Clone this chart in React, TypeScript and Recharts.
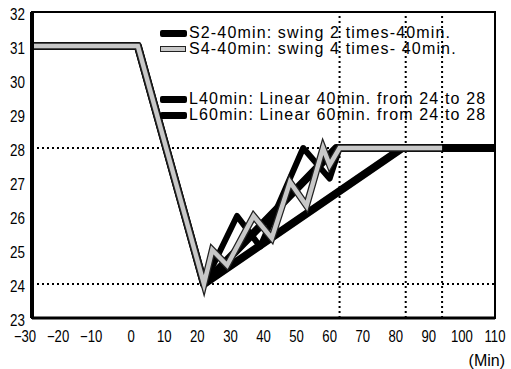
import React from 'react';
import { LineChart, Line, XAxis, YAxis, ReferenceLine, ReferenceArea, Legend } from 'recharts';

const xTicks = [-30, -20, -10, 0, 10, 20, 30, 40, 50, 60, 70, 80, 90, 100, 110];
const yTicks = [23, 24, 25, 26, 27, 28, 29, 30, 31, 32];

const s2X = [-30, 2, 22, 32, 39, 52, 60, 63, 110];
const s2Y = [31, 31, 24, 26, 25.1, 28, 27.1, 28, 28];

const s4X = [-30, 2, 22, 24.5, 29, 37, 42.5, 48, 53, 58, 60, 63, 94];
const s4Y = [31, 31, 24, 25, 24.55, 26, 25.35, 27, 26.3, 28, 27.5, 28, 28];

const l40X = [-30, 2, 22, 62, 110];
const l40Y = [31, 31, 24, 28, 28];

const l60X = [-30, 2, 22, 82, 110];
const l60Y = [31, 31, 24, 28, 28];

const refY = [24, 28];
const refX = [63, 83, 94];

const legendLabels = [
  'S2-40min: swing 2 times-40min.',
  'S4-40min: swing 4 times- 40min.',
  'L40min: Linear 40min. from 24 to 28',
  'L60min: Linear 60min. from 24 to 28',
];

const zip = (xs: number[], ys: number[]) => xs.map((x, i) => ({ x, y: ys[i] }));
const s2 = zip(s2X, s2Y);
const s4 = zip(s4X, s4Y);
const l40 = zip(l40X, l40Y);
const l60 = zip(l60X, l60Y);

const textFont = "'Liberation Sans', Arial, sans-serif";

const XTick = (props: any) => {
  const { x, y, payload } = props;
  const v = payload.value as number;
  const cx = x + (v < 0 ? -7 : 0);
  return (
    <text transform={`translate(${cx},${y}) scale(0.82,1)`} x={0} y={0} dy="0.71em" textAnchor="middle" fontSize={16} fontFamily={textFont} fill="#000">
      {v < 0 ? '\u2212' + Math.abs(v) : String(v)}
    </text>
  );
};

const YTick = (props: any) => {
  const { x, y, payload } = props;
  return (
    <text transform={`translate(${x},${y + 2}) scale(0.84,1)`} x={0} y={0} dy="0.355em" textAnchor="end" fontSize={16} fontFamily={textFont} fill="#000">
      {payload.value}
    </text>
  );
};

const rowTops = [0, 16, 66, 82];

const LegendContent = () => (
  <div style={{ position: 'relative', width: 340, height: 100, fontFamily: textFont, fontSize: 16, letterSpacing: 1.15, color: '#000' }}>
    {legendLabels.map((label, i) => (
      <div key={label} style={{ position: 'absolute', left: 0, top: rowTops[i], height: 18, display: 'flex', alignItems: 'center', whiteSpace: 'nowrap' }}>
        {i === 1 ? (
          <span style={{ display: 'inline-block', width: 24, height: 4, background: '#c8c8c8', border: '1px solid #222', marginRight: 3 }} />
        ) : (
          <span style={{ display: 'inline-block', width: 27, height: 7, background: '#000', borderRadius: 2, marginRight: 2 }} />
        )}
        <span>{label}</span>
      </div>
    ))}
  </div>
);

export default function App() {
  return (
    <div style={{ position: 'absolute', left: 0, top: 0, background: '#fff' }}>
      <LineChart width={511} height={369} margin={{ top: 12, right: 16, bottom: 0, left: 0 }}>
        <XAxis
          type="number"
          dataKey="x"
          domain={[-30, 110]}
          ticks={xTicks}
          allowDataOverflow
          height={51}
          tickLine={false}
          tickSize={0}
          tickMargin={13}
          tick={<XTick />}
          axisLine={{ stroke: '#000', strokeWidth: 3 }}
          label={{
            content: () => (
              <text x={505} y={366} textAnchor="end" fontSize={16} fontFamily={textFont} fill="#000">(Min)</text>
            ),
          }}
        />
        <YAxis
          type="number"
          dataKey="y"
          domain={[23, 32]}
          ticks={yTicks}
          allowDataOverflow
          width={32}
          tickLine={false}
          tickSize={0}
          tickMargin={7}
          tick={<YTick />}
          axisLine={{ stroke: '#000', strokeWidth: 4 }}
        />
        <ReferenceArea x1={-30} x2={110} y1={23} y2={32} fill="none" stroke="#000" strokeWidth={2} />
        {refY.map((v) => (
          <ReferenceLine key={'y' + v} y={v} stroke="#000" strokeWidth={2} strokeDasharray="2 3" />
        ))}
        {refX.map((v) => (
          <ReferenceLine key={'x' + v} x={v} stroke="#000" strokeWidth={2} strokeDasharray="2 3" />
        ))}
        <Legend
          layout="horizontal"
          verticalAlign="middle"
          align="center"
          content={<LegendContent />}
          wrapperStyle={{ position: 'absolute', left: 160, top: 24, width: 340, height: 100 }}
        />
        <Line data={l60} dataKey="y" name="L60min" stroke="#000" strokeWidth={8} dot={false} isAnimationActive={false} strokeLinejoin="round" />
        <Line data={l40} dataKey="y" name="L40min" stroke="#000" strokeWidth={8} dot={false} isAnimationActive={false} strokeLinejoin="round" />
        <Line data={s2} dataKey="y" name="S2-40min" stroke="#000" strokeWidth={6} dot={false} isAnimationActive={false} strokeLinejoin="round" />
        <Line data={s4} dataKey="y" name="S4-40min" stroke="#222" strokeWidth={7} dot={false} isAnimationActive={false} legendType="none" />
        <Line data={s4} dataKey="y" name="S4-40min inner" stroke="#c8c8c8" strokeWidth={4.5} dot={false} isAnimationActive={false} legendType="none" />
      </LineChart>
    </div>
  );
}
